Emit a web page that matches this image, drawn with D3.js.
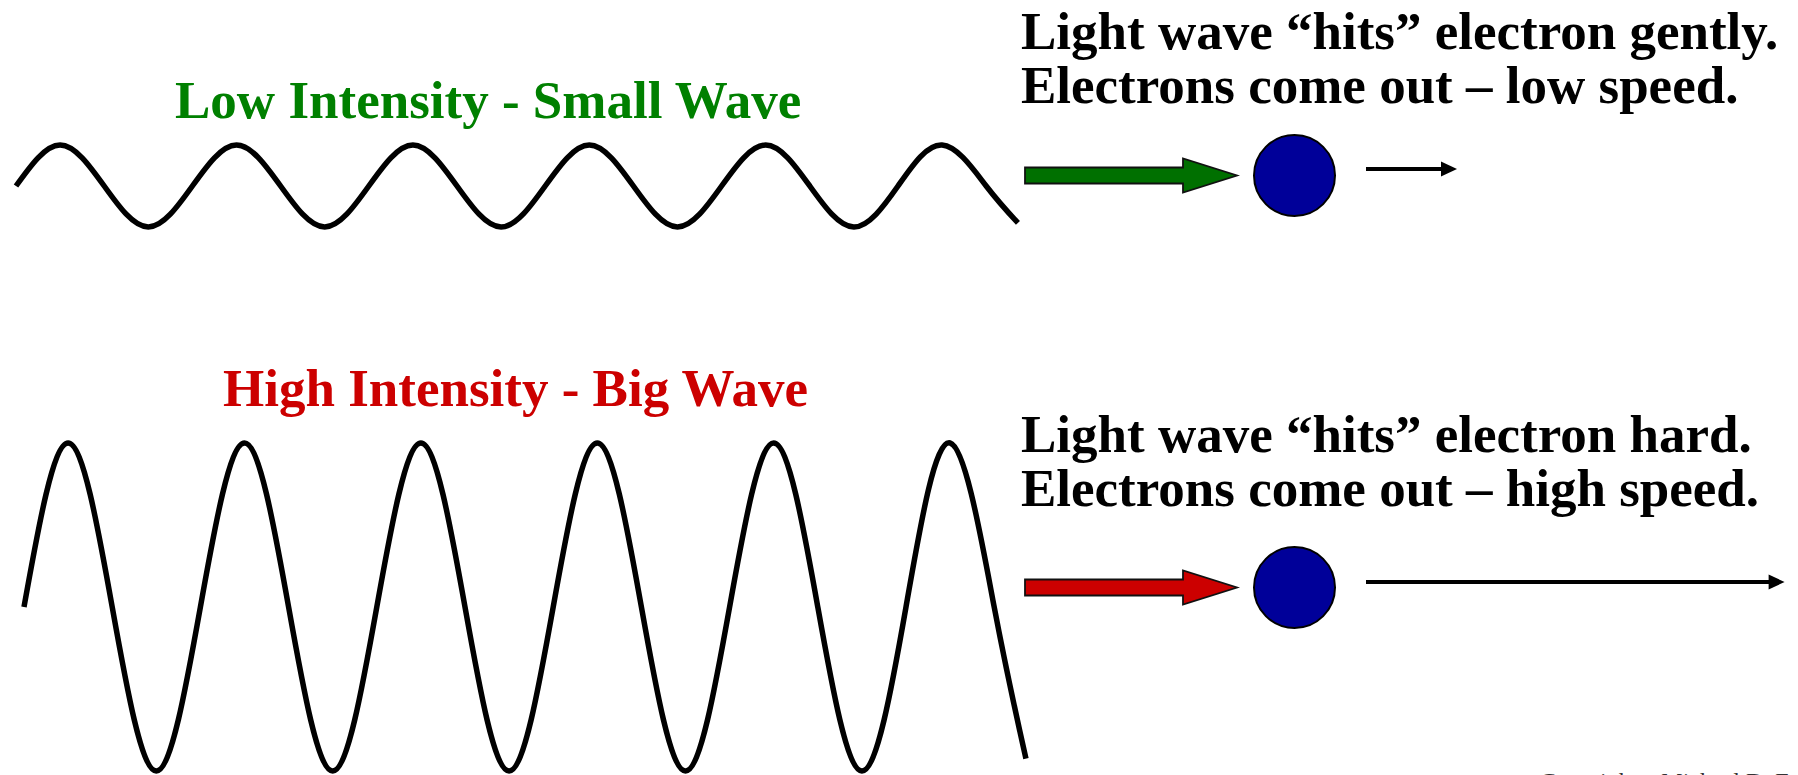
<!DOCTYPE html>
<html>
<head>
<meta charset="utf-8">
<script src="https://cdn.jsdelivr.net/npm/d3@7"></script>
<style>
  html, body { margin: 0; padding: 0; background: #fff; }
  svg { display: block; }
  text { font-family: "Liberation Serif", "Times New Roman", serif; }
</style>
</head>
<body>
<svg id="chart" width="1798" height="775"></svg>
<script>
// ---------- data ----------
const rowKeys = ["low", "high"];
const titles = ["Low Intensity - Small Wave", "High Intensity - Big Wave"];
const titleColors = ["#008000", "#cc0000"];
const arrowColors = ["#007000", "#cc0000"];
const textLine1 = ["Light wave \u201chits\u201d electron gently.", "Light wave \u201chits\u201d electron hard."];
const textLine2 = ["Electrons come out \u2013 low speed.", "Electrons come out \u2013 high speed."];
// wave: phase in cycles, displacement in units of the small wave's amplitude
const wavePhase = [0, 0.25, 0.5, 0.75, 1, 1.25, 1.5, 1.75, 2, 2.25, 2.5, 2.75,
                   3, 3.25, 3.5, 3.75, 4, 4.25, 4.5, 4.75, 5, 5.25, 5.5, 5.68];
const lowWave  = [0, 1, 0, -1, 0, 1, 0, -1, 0, 1, 0, -1,
                  0, 1, 0, -1, 0, 1, 0, -1, 0, 1, 0, -0.9];
const highWave = [0, 4, 0, -4, 0, 4, 0, -4, 0, 4, 0, -4,
                  0, 4, 0, -4, 0, 4, 0, -4, 0, 4, 0, -3.7];
const waves = [lowWave, highWave];
const electronSpeed = [1, 4.6];
const copyright = "Copyright \u2013 Michael D. Fayer, 2017";

// ---------- layout ----------
const layout = {
  low:  { titleX: 175, titleY: 118, waveX0: 16, waveCY: 186, textY1: 49,  textY2: 103, cy: 175.5, speedY: 169 },
  high: { titleX: 223, titleY: 406, waveX0: 24, waveCY: 607, textY1: 452, textY2: 506, cy: 587.5, speedY: 582 }
};
const period = 176.4;     // px per cycle
const ampUnit = 41;       // px per displacement unit
const fontSize = 53;

const svg = d3.select("#chart");

const yAmp = d3.scaleLinear().domain([-1, 1]).range([ampUnit, -ampUnit]);
const speedScale = d3.scaleLinear().domain([0, 1]).range([0, 91]);

rowKeys.forEach((key, i) => {
  const L = layout[key];
  const g = svg.append("g").attr("class", "row-" + key);

  // title
  g.append("text")
    .attr("x", L.titleX).attr("y", L.titleY)
    .attr("font-size", fontSize).attr("font-weight", "bold")
    .attr("fill", titleColors[i])
    .text(titles[i]);

  // wave
  const x = d3.scaleLinear().domain([0, 1]).range([L.waveX0, L.waveX0 + period]);
  const pts = wavePhase.map((p, j) => [p, waves[i][j]]);
  const line = d3.line()
    .x(d => x(d[0]))
    .y(d => L.waveCY + yAmp(d[1]))
    .curve(d3.curveNatural);
  g.append("path")
    .datum(pts)
    .attr("d", line)
    .attr("fill", "none")
    .attr("stroke", "#000")
    .attr("stroke-width", 5.5)
    .attr("stroke-linejoin", "round");

  // explanation text
  g.append("text")
    .attr("x", 1021).attr("y", L.textY1)
    .attr("font-size", fontSize).attr("font-weight", "bold")
    .attr("fill", "#000").text(textLine1[i]);
  g.append("text")
    .attr("x", 1021).attr("y", L.textY2)
    .attr("font-size", fontSize).attr("font-weight", "bold")
    .attr("fill", "#000").text(textLine2[i]);

  // block arrow (light)
  const cy = L.cy;
  const ax0 = 1025, axh = 1183, axt = 1237, sh = 8, hh = 17;
  const blk = d3.path();
  blk.moveTo(ax0, cy - sh);
  blk.lineTo(axh, cy - sh);
  blk.lineTo(axh, cy - hh);
  blk.lineTo(axt, cy);
  blk.lineTo(axh, cy + hh);
  blk.lineTo(axh, cy + sh);
  blk.lineTo(ax0, cy + sh);
  blk.closePath();
  g.append("path")
    .attr("d", blk.toString())
    .attr("fill", arrowColors[i])
    .attr("stroke", "#111")
    .attr("stroke-width", 1.8)
    .attr("stroke-linejoin", "miter");

  // electron
  g.append("circle")
    .attr("cx", 1294.5).attr("cy", cy).attr("r", 40.5)
    .attr("fill", "#000099")
    .attr("stroke", "#000")
    .attr("stroke-width", 2);

  // electron speed arrow
  const sx0 = 1366, sy = L.speedY;
  const sx1 = sx0 + speedScale(electronSpeed[i]);
  const headLen = 16, headHalf = 7.5;
  g.append("line")
    .attr("x1", sx0).attr("y1", sy)
    .attr("x2", sx1 - headLen + 1).attr("y2", sy)
    .attr("stroke", "#000").attr("stroke-width", 4);
  const hp = d3.path();
  hp.moveTo(sx1 - headLen, sy - headHalf);
  hp.lineTo(sx1, sy);
  hp.lineTo(sx1 - headLen, sy + headHalf);
  hp.closePath();
  g.append("path").attr("d", hp.toString()).attr("fill", "#000");
});

// copyright (partially cut at the bottom edge)
svg.append("text")
  .attr("x", 1540).attr("y", 789)
  .attr("font-size", 24)
  .attr("fill", "#333")
  .text(copyright);
</script>
</body>
</html>
